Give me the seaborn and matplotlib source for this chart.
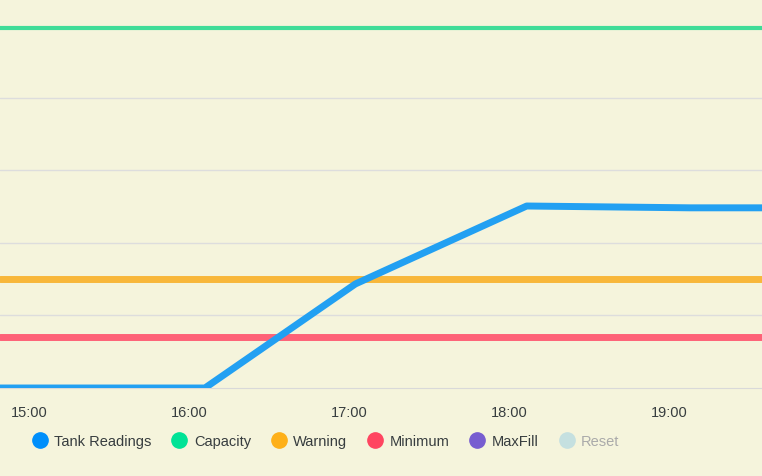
import numpy as np
import pandas as pd
import matplotlib.pyplot as plt
import seaborn as sns
from matplotlib.lines import Line2D

# tank readings (hours since midnight, level)
tank_hours = [14.8, 16.10, 17.04, 18.11, 19.13, 19.6]
tank_level = [0, 0, 28.7, 50.2, 49.7, 49.7]
capacity = 99.2
warning = 30
minimum = 14
tick_hours = [15, 16, 17, 18, 19]
tick_labels = ['15:00', '16:00', '17:00', '18:00', '19:00']
series_names = ['Tank Readings', 'Capacity', 'Warning', 'Minimum', 'MaxFill', 'Reset']
series_colors = ['#008FFB', '#00E396', '#FEB019', '#FF4560', '#775DD0', '#c5e0e0']

bg = '#f5f4dc'
sns.set_style('white')
plt.rcParams['font.family'] = ['Liberation Sans', 'DejaVu Sans']

fig = plt.figure(figsize=(7.62, 4.77), dpi=100, facecolor=bg)
ax = fig.add_axes([0, 1 - 389/477, 1, 389/477])
ax.set_facecolor(bg)

df = pd.DataFrame({'hour': tank_hours, 'level': tank_level})
sns.lineplot(data=df, x='hour', y='level', ax=ax, color='#22a0f2', linewidth=5, zorder=5)
ax.axhline(capacity, color='#3fdc98', linewidth=3, zorder=4)
ax.axhline(warning, color='#f8b73a', linewidth=5, zorder=4)
ax.axhline(minimum, color='#fe6177', linewidth=5, zorder=4)

ax.set_xlim(14.82, 19.58)
ax.set_ylim(0, 107.3)
for g in [20, 40, 60, 80]:
    ax.axhline(g, color='#dddddd', linewidth=1, zorder=1)
ax.set_yticks([])
ax.set_xticks(tick_hours)
ax.set_xticklabels(tick_labels, fontsize=10.5, color='#373d3f')
ax.tick_params(axis='x', length=6, color='#d9d9d9', pad=6)
ax.set_xlabel(None)
ax.set_ylabel(None)
for s in ['top', 'left', 'right']:
    ax.spines[s].set_visible(False)
ax.spines['bottom'].set_color('#d9d9d9')

handles = [Line2D([], [], marker='o', linestyle='None', markersize=11, color=c) for c in series_colors]
leg = fig.legend(handles, series_names, loc='center', bbox_to_anchor=(0.423, 1 - 442/477),
                 ncol=6, frameon=False, fontsize=10.5, handletextpad=0.0, columnspacing=0.9)
for t in leg.get_texts():
    t.set_color('#373d3f')
leg.get_texts()[-1].set_color('#aaaaaa')

fig.savefig('out.png', dpi=100, facecolor=bg)
